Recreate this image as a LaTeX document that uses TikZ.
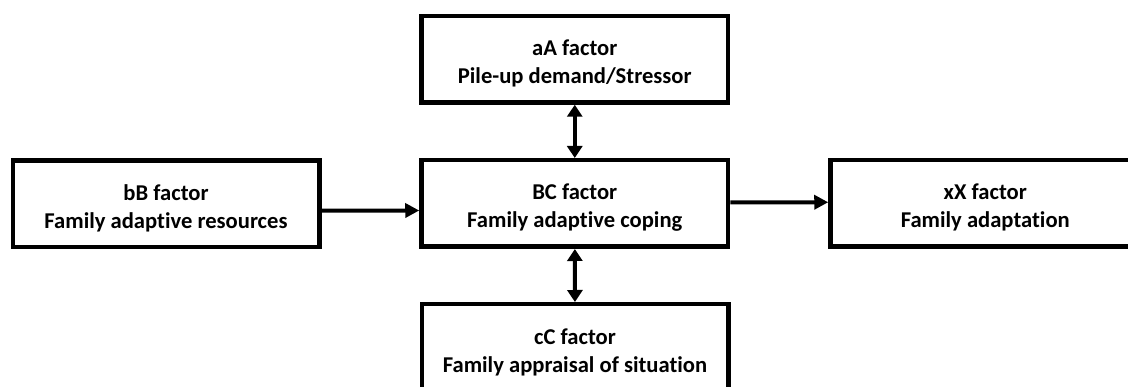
\documentclass[tikz,border=0pt]{standalone}
\usepackage{fontspec}
\setmainfont[Ligatures=NoCommon]{Carlito}
\usetikzlibrary{arrows.meta,calc}
\begin{document}
\begin{tikzpicture}[x=1pt,y=-1pt,
  factorbox/.style={draw=black, line width=4.5pt, fill=white, inner sep=0pt,
    minimum width=306.5pt, minimum height=86.5pt},
  boxtext/.style={align=center, inner sep=0pt, yshift=-4.5pt,
    font=\bfseries\fontsize{22.6}{28}\selectfont},
  link/.style={line width=4pt, -{Triangle[length=14pt,width=14pt]}},
  biline/.style={line width=4pt, {Triangle[length=12pt,width=15pt]}-{Triangle[length=12pt,width=15pt]}}]
\useasboundingbox (0,0) rectangle (1128,387);
\clip (0,0) rectangle (1128,387);
\node[factorbox, label={[boxtext]center:{aA factor\\Pile-up demand/Stressor}}] (aA) at (574.75,59.25) {};
\node[factorbox, label={[boxtext]center:{BC factor\\Family adaptive coping}}] (BC) at (574.75,203.5) {};
\node[factorbox, label={[boxtext]center:{bB factor\\Family adaptive resources}}] (bB) at (166,203.75) {};
\node[factorbox, minimum width=309.5pt, label={[boxtext]center:{xX factor\\Family adaptation}}] (xX) at (985.25,203.25) {};
\node[factorbox, label={[boxtext]center:{cC factor\\Family appraisal of situation}}] (cC) at (575,347.5) {};
\draw[biline] (aA) -- (BC);
\draw[biline] (BC) -- (cC);
\draw[link] ($(bB.east)+(0,7)$) -- ($(BC.west)+(0,7)$);
\draw[link] ($(BC.east)+(0,-1)$) -- ($(xX.west)+(0,-1)$);
\end{tikzpicture}
\end{document}
